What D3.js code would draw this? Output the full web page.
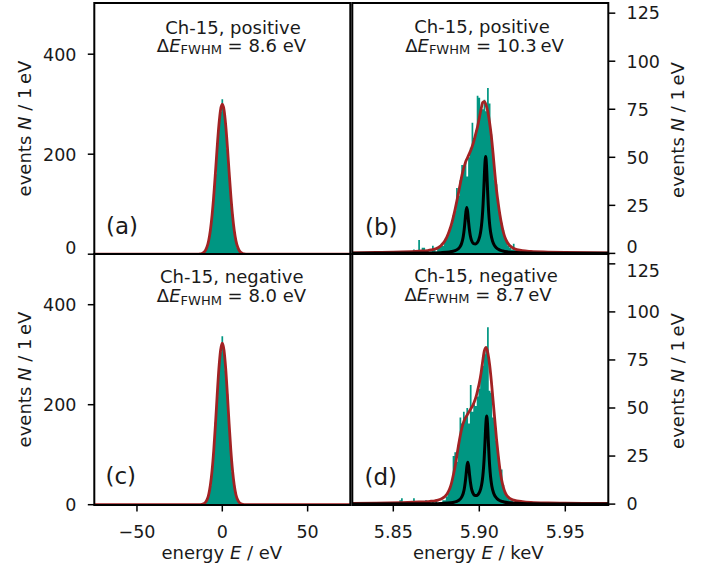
<!DOCTYPE html>
<html><head><meta charset="utf-8">
<script src="https://cdn.jsdelivr.net/npm/d3@7/dist/d3.min.js"></script>
<style>
body{margin:0;background:#fff}
text{font-family:"DejaVu Sans",Verdana,sans-serif;fill:#1a1a1a}
</style>
</head><body>
<svg id="chart" width="711" height="572"></svg>
<script>
// ---------------- DATA ----------------
const xTicksLeft = [-50, 0, 50];
const xTickLabelsLeft = ["\u221250", "0", "50"];
const xTicksRight = [5.85, 5.90, 5.95];
const xTickLabelsRight = ["5.85", "5.90", "5.95"];
const yTicksLeft = [0, 200, 400];
const yTicksRight = [0, 25, 50, 75, 100, 125];

const panelLetters = ["(a)", "(b)", "(c)", "(d)"];
const panelTitles = ["Ch-15, positive", "Ch-15, positive", "Ch-15, negative", "Ch-15, negative"];
const fwhmValues = ["8.6", "10.3", "8.0", "8.7"];
const fwhmUnitSep = [" ", "\u2009", " ", "\u2009"];

// histograms: counts per 1 eV bin, first bin centre given
const histA_start = -13; // eV
const histA = [1,1,4,6,15,26,50,76,120,160,218,255,285,310,283,262,210,168,114,80,46,28,13,8,3,1,1];
const histC_start = -12; // eV
const histC = [1,2,4,10,21,38,70,105,165,215,275,305,337,312,268,222,158,112,65,40,18,9,5,2,1];
const histB_start = 5.838; // keV
const histB = [0,0,1,0,0,0,0,1,0,0,
               0,0,0,0,0,0,0,1,0,0,
               0,0,0,1,2,0,0,7,0,3,
               3,0,1,0,1,4,2,1,3,4,
               5,4,7,8,10,12,15,20,22,34,
               30,38,46,44,47,40,50,55,68,60,
               64,82,81,76,75,80,74,86,78,62,
               52,38,36,28,20,16,12,8,6,4,
               3,2,5,2,1,1,0,1,0,0,
               1];
const histD_start = 5.843; // keV
const histD = [0,1,0,0,0,0,0,0,0,0,
               0,2,3,1,0,0,0,0,0,3,
               0,0,1,0,0,0,2,0,1,0,
               1,0,2,0,1,1,2,2,4,6,
               9,11,25,27,22,31,45,42,48,45,
               50,42,62,48,52,51,56,60,68,72,
               78,80,92,59,58,45,43,33,25,19,
               18,10,6,4,3,2,2,1,0,1,
               0,0,0,0,0,0,0,0,0,1];

// fit curves (red)
const fitA_E = [-75,-20,-15,-14,-13,-12,-11,-10,-9,-8,-7,-6,-5,-4,-3,-2,-1,0,1,2,3,4,5,6,7,8,9,10,11,12,13,14,15,20,75];
const fitA_N = [0,0,0.06,0.19,0.5,1.4,3.2,7,14.3,27,47.5,77.5,117,164,214,258,289,300,289,258,214,164,117,77.5,47.5,27,14.3,7,3.2,1.4,0.5,0.19,0.06,0,0];
const fitC_E = [-75,-20,-14,-13,-12,-11,-10,-9,-8,-7,-6,-5,-4,-3,-2,-1,0,1,2,3,4,5,6,7,8,9,10,11,12,13,14,20,75];
const fitC_N = [0,0,0.05,0.2,0.6,1.7,4.3,9.7,20,39,68,109,161,219,272,309,323,309,272,219,161,109,68,39,20,9.7,4.3,1.7,0.6,0.2,0.05,0,0];
const fitB_E = [5.825,5.840,5.855,5.865,5.870,5.872,5.874,5.875,5.876,5.877,5.878,5.879,5.880,5.881,5.882,5.883,5.884,5.885,5.886,5.887,5.888,5.889,5.890,5.891,5.892,5.893,5.894,5.895,5.896,5.897,5.898,5.899,5.900,5.901,5.902,5.903,5.904,5.905,5.906,5.907,5.908,5.909,5.910,5.911,5.912,5.913,5.914,5.915,5.916,5.917,5.918,5.919,5.920,5.925,5.930,5.940,5.950,5.975];
const fitB_N = [0.3,0.5,0.8,1.2,1.5,1.8,2.2,2.5,2.9,3.5,4.3,5.3,6.6,8.2,10.3,12.8,15.8,19.3,23.2,27.5,32,36.5,41,44.5,47.5,49.5,51.5,53.5,56,59,62.5,66,70.5,75,78.5,79,77,73.5,68,61,52,42,33,26,20,15,11,8.2,6.2,4.8,3.8,3.1,2.6,1.4,1.0,0.7,0.5,0.3];
const fitD_E = fitB_E;
const fitD_N = [0.3,0.5,0.8,1.1,1.3,1.5,1.7,1.9,2.1,2.4,2.8,3.3,4.0,5.0,6.5,8.5,11.5,15.5,20,25.5,31,36,40,43,45,46.5,48,49.5,51,53,55.5,59,63,68,74.5,80,81.5,78.5,72.5,64,54,44,34,25.5,18,12.5,8.7,6.1,4.5,3.5,2.8,2.4,2.1,1.3,0.9,0.6,0.5,0.3];

// line components (black), Kα2 + Kα1
const compB_E = [5.825,5.8727,5.8777,5.8827,5.8847,5.8867,5.8877,5.8887,5.8897,5.8902,5.8907,5.8912,5.8917,5.8922,5.8927,5.8932,5.8937,5.8942,5.8947,5.8952,5.8957,5.8967,5.8977,5.8987,5.8997,5.9007,5.9012,5.9017,5.9022,5.9027,5.9032,5.9037,5.9042,5.9047,5.9052,5.9057,5.9062,5.9067,5.9077,5.9087,5.9097,5.9117,5.9137,5.9167,5.9217,5.9287,5.9387,5.975];
const compB_N = [0.04,0.25,0.4,0.77,1.09,1.74,2.34,3.33,5.16,6.7,8.94,12.2,16.7,21.5,23.9,21.7,17,12.7,9.63,7.6,6.3,5.03,4.84,5.48,7.16,10.8,13.9,18.6,25.6,35.1,45.5,50.4,45.4,35,25.3,18.3,13.5,10.3,6.4,4.3,3.1,1.85,1.23,0.76,0.42,0.22,0.12,0.03];
const compD_E = [5.825,5.8733,5.8783,5.8833,5.8853,5.8873,5.8883,5.8893,5.8903,5.8908,5.8913,5.8918,5.8923,5.8928,5.8933,5.8938,5.8943,5.8948,5.8953,5.8958,5.8963,5.8973,5.8983,5.8993,5.9003,5.9013,5.9018,5.9023,5.9028,5.9033,5.9038,5.9043,5.9048,5.9053,5.9058,5.9063,5.9068,5.9073,5.9083,5.9093,5.9103,5.9123,5.9143,5.9173,5.9223,5.9293,5.9393,5.975];
const compD_N = [0.04,0.22,0.36,0.69,0.99,1.58,2.13,3.04,4.71,6.12,8.16,11.15,15.2,19.7,21.8,19.8,15.5,11.6,8.79,6.94,5.75,4.58,4.41,4.99,6.52,9.81,12.64,16.97,23.26,31.96,41.4,45.9,41.35,31.8,23,16.7,12.25,9.34,5.8,3.94,2.84,1.68,1.12,0.69,0.38,0.2,0.1,0.03];

// ---------------- DRAW ----------------
const svg = d3.select("#chart");
const TEAL = "#009682", RED = "#a22223";

const xL = d3.scaleLinear().domain([-75, 75]).range([94.3, 350.3]);
const xR = d3.scaleLinear().domain([5.825, 5.975]).range([350.3, 608.3]);
const yLT = d3.scaleLinear().domain([0, 502]).range([254.2, 3.2]);
const yRT = d3.scaleLinear().domain([0, 130.7]).range([253.4, 2.2]);
const yLB = d3.scaleLinear().domain([0, 502]).range([504.7, 253.7]);
const yRB = d3.scaleLinear().domain([0, 130.7]).range([504.1, 252.9]);

const panels = [
  {i:0, x:xL, y:yLT, fr:[94.3,3,350.3,254], hs:histA_start, h:histA, bw:1, fe:fitA_E, fn:fitA_N, ce:null, cn:null, side:"left", bottom:false,
   t1:[233,33.5], t2:[231.5,51.7], lab:[106,234.3], zero:[0,-7]},
  {i:1, x:xR, y:yRT, fr:[352.3,3,608.3,254], hs:histB_start, h:histB, bw:0.001, fe:fitB_E, fn:fitB_N, ce:compB_E, cn:compB_N, side:"right", bottom:false,
   t1:[482,32.5], t2:[484.5,51.5], lab:[365,235], zero:[0,-7]},
  {i:2, x:xL, y:yLB, fr:[94.3,254,350.3,505], hs:histC_start, h:histC, bw:1, fe:fitC_E, fn:fitC_N, ce:null, cn:null, side:"left", bottom:true,
   t1:[231.7,283.3], t2:[231.5,302], lab:[105.5,484.3], zero:null},
  {i:3, x:xR, y:yRB, fr:[352.3,254,608.3,505], hs:histD_start, h:histD, bw:0.001, fe:fitD_E, fn:fitD_N, ce:compD_E, cn:compD_N, side:"right", bottom:true,
   t1:[486,282], t2:[478,300.5], lab:[364.5,485.2], zero:null}
];

panels.forEach(p => {
  const g = svg.append("g");
  const clipId = "clip" + p.i;
  svg.append("clipPath").attr("id", clipId).append("rect")
    .attr("x", p.fr[0]).attr("y", p.fr[1]).attr("width", p.fr[2]-p.fr[0]).attr("height", p.fr[3]-p.fr[1]);
  const plot = g.append("g").attr("clip-path", `url(#${clipId})`);

  // histogram as one stepped area through the bin edges
  const steps = [];
  p.h.forEach((n, k) => {
    const e = p.hs + k*p.bw;
    steps.push([e - p.bw/2, n], [e + p.bw/2, n]);
  });
  const area = d3.area().x(d => p.x(d[0])).y0(p.y(0)).y1(d => p.y(d[1]));
  plot.append("path").attr("d", area(steps)).attr("fill", TEAL);

  const line = d3.line().x(d => p.x(d[0])).y(d => p.y(d[1])).curve(d3.curveMonotoneX);
  plot.append("path").attr("d", line(d3.zip(p.fe, p.fn)))
    .attr("fill", "none").attr("stroke", RED).attr("stroke-width", 2.8).attr("stroke-linejoin","round");
  if (p.ce) {
    plot.append("path").attr("d", line(d3.zip(p.ce, p.cn)))
      .attr("fill", "none").attr("stroke", "#000").attr("stroke-width", 3).attr("stroke-linejoin","round");
  }

  // frame
  g.append("rect").attr("x", p.fr[0]).attr("y", p.fr[1])
    .attr("width", p.fr[2]-p.fr[0]).attr("height", p.fr[3]-p.fr[1])
    .attr("fill", "none").attr("stroke", "#000").attr("stroke-width", 2);

  // y ticks
  const yt = p.side === "left" ? yTicksLeft : yTicksRight;
  yt.forEach(v => {
    const yy = p.y(v);
    let dy = 0;
    if (p.zero && v === 0) dy = p.zero[1];
    if (p.side === "right" && p.bottom && v === 125) dy = 6.5;
    if (p.side === "left") {
      g.append("line").attr("x1", p.fr[0]).attr("x2", p.fr[0]-6.5).attr("y1", yy).attr("y2", yy)
        .attr("stroke", "#000").attr("stroke-width", 1.5);
      g.append("text").attr("x", 76.5).attr("y", yy + 6.3 + dy).attr("text-anchor", "end")
        .attr("font-size", 17.5).text(v);
    } else {
      g.append("line").attr("x1", p.fr[2]).attr("x2", p.fr[2]+7).attr("y1", yy).attr("y2", yy)
        .attr("stroke", "#000").attr("stroke-width", 1.5);
      g.append("text").attr("x", 626.5).attr("y", yy + 6.3 + dy).attr("text-anchor", "start")
        .attr("font-size", 17.5).text(v);
    }
  });

  // x ticks
  if (p.bottom) {
    const xt = p.side === "left" ? xTicksLeft : xTicksRight;
    const xl = p.side === "left" ? xTickLabelsLeft : xTickLabelsRight;
    xt.forEach((v, k) => {
      const xx = p.x(v);
      g.append("line").attr("x1", xx).attr("x2", xx).attr("y1", p.fr[3]).attr("y2", p.fr[3]+6.5)
        .attr("stroke", "#000").attr("stroke-width", 1.5);
      g.append("text").attr("x", xx).attr("y", 537.5).attr("text-anchor", "middle")
        .attr("font-size", 17.5).text(xl[k]);
    });
  }

  // two-line title as a single text element
  const tt = g.append("text").attr("text-anchor", "middle").attr("font-size", 18);
  tt.append("tspan").attr("x", p.t1[0]).attr("y", p.t1[1]).text(panelTitles[p.i]);
  tt.append("tspan").attr("x", p.t2[0]).attr("y", p.t2[1]).text("\u0394");
  tt.append("tspan").attr("font-style", "italic").text("E");
  tt.append("tspan").attr("font-size", 13).attr("dy", 2.5).text("FWHM");
  tt.append("tspan").attr("dy", -2.5).text(" = " + fwhmValues[p.i] + fwhmUnitSep[p.i] + "eV");

  // panel letter
  g.append("text").attr("x", p.lab[0]).attr("y", p.lab[1]).attr("font-size", 23).text(panelLetters[p.i]);
});

// y axis titles
function yTitle(x, y) {
  const t = svg.append("text").attr("transform", `translate(${x},${y}) rotate(-90)`)
    .attr("text-anchor", "middle").attr("font-size", 18);
  t.append("tspan").text("events ");
  t.append("tspan").attr("font-style", "italic").text("N");
  t.append("tspan").text(" / 1\u2009eV");
}
yTitle(31, 128.5);
yTitle(31, 379.5);
yTitle(684, 130);
yTitle(684, 381);

// x axis titles
function xTitle(x, y, unit) {
  const t = svg.append("text").attr("x", x).attr("y", y).attr("text-anchor", "middle").attr("font-size", 18);
  t.append("tspan").text("energy ");
  t.append("tspan").attr("font-style", "italic").text("E");
  t.append("tspan").text(" / " + unit);
}
xTitle(221.8, 558.5, "eV");
xTitle(478.3, 558.5, "keV");
</script>
</body></html>
